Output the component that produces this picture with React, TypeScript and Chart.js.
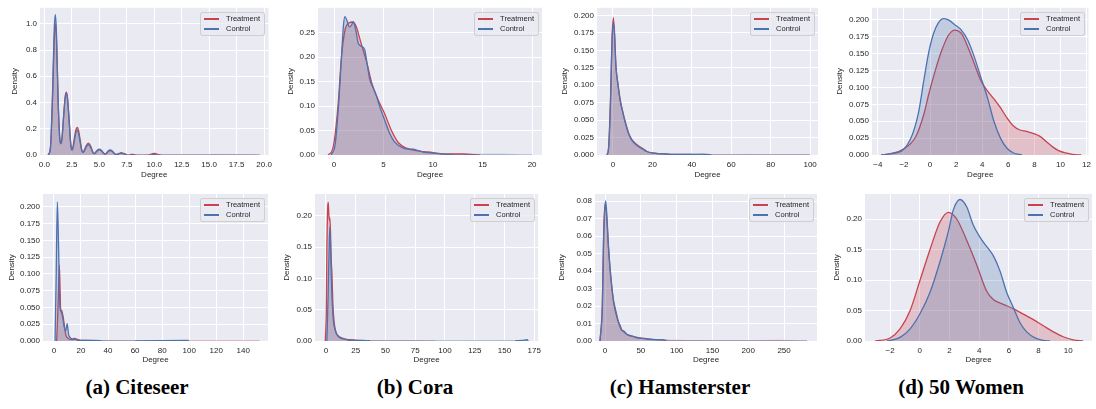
import React, { useEffect, useRef, useState } from "react";
import { Chart, registerables } from "chart.js";
Chart.register(...registerables);

// ---------- DATA ----------
// (a) Citeseer, top
const citeseerTopX = [0.35,0.55,0.75,0.9,1.0,1.1,1.25,1.4,1.5,1.6,1.75,1.9,2.0,2.1,2.25,2.4,2.5,2.6,2.75,2.9,3.0,3.1,3.25,3.4,3.5,3.6,3.8,4.0,4.2,4.4,4.5,4.6,4.8,5.0,5.2,5.4,5.5,5.6,5.8,6.0,6.2,6.4,6.6,6.8,7.0,7.2,7.5,7.8,8.0,8.3,8.8,9.5,9.8,10.0,10.2,10.6,12.0,14.0,15.6,17.0,19.6];
const citeseerTopTreat = [0,0.05,0.45,0.9,1.0,0.88,0.42,0.13,0.09,0.13,0.3,0.45,0.48,0.44,0.27,0.09,0.04,0.06,0.14,0.2,0.21,0.19,0.12,0.04,0.02,0.03,0.07,0.09,0.07,0.025,0.01,0.012,0.03,0.04,0.03,0.012,0.006,0.008,0.025,0.033,0.025,0.008,0.004,0.012,0.017,0.012,0.003,0.003,0.005,0.002,0.001,0.002,0.008,0.012,0.008,0.001,0.001,0.001,0.002,0.001,0];
const citeseerTopCtrl = [0,0.06,0.5,0.97,1.07,0.93,0.42,0.12,0.085,0.12,0.29,0.44,0.47,0.43,0.26,0.08,0.035,0.05,0.12,0.18,0.19,0.17,0.1,0.035,0.02,0.025,0.06,0.08,0.06,0.022,0.012,0.015,0.035,0.045,0.035,0.014,0.008,0.01,0.03,0.038,0.028,0.01,0.004,0.009,0.012,0.009,0.003,0.003,0.004,0.002,0.001,0.001,0.003,0.005,0.003,0.001,0.001,0.001,0.002,0.002,0];
const citeseerTopXTicks = [0,2.5,5,7.5,10,12.5,15,17.5,20];
const citeseerTopYTicks = [0,0.2,0.4,0.6,0.8,1.0];

// (b) Cora, top
const coraTopTreatX = [-0.6,-0.1,0.4,0.75,1.1,1.5,1.9,2.25,2.6,3.0,3.3,3.8,4.4,5.1,5.8,6.5,7.3,8.6,10.0,11.0,13.0,14.7];
const coraTopTreatY = [0,0.015,0.1,0.2,0.255,0.27,0.272,0.262,0.238,0.21,0.19,0.148,0.115,0.085,0.05,0.025,0.014,0.008,0.005,0.002,0.002,0];
const coraTopCtrlX = [-0.3,0.1,0.45,0.75,0.95,1.1,1.3,1.55,1.75,1.95,2.2,2.45,2.8,3.1,3.35,3.6,4.0,4.3,4.6,5.1,5.6,6.1,7.0,7.6,8.0,8.5,9.0,10.0,12.0,15.0,17.0,20.0];
const coraTopCtrlY = [0,0.02,0.1,0.2,0.265,0.283,0.275,0.262,0.265,0.272,0.255,0.228,0.222,0.215,0.185,0.155,0.135,0.12,0.1,0.072,0.045,0.027,0.014,0.012,0.012,0.009,0.006,0.004,0.001,0.001,0.001,0];
const coraTopXTicks = [0,5,10,15,20];
const coraTopYTicks = [0,0.05,0.1,0.15,0.2,0.25];

// (c) Hamsterster, top
const hamTopX = [-3,-2.2,-1.2,-0.5,0.2,0.8,1.5,2.5,3.7,4.9,6.2,8,9.6,12,14.7,17.2,19.8,23,27,30,36,40,45,50,60,67,80,90,100];
const hamTopTreat = [0,0.012,0.085,0.165,0.197,0.175,0.128,0.103,0.079,0.063,0.048,0.031,0.022,0.015,0.01,0.005,0.003,0.002,0.0015,0.001,0.001,0.0008,0.0006,0.0003,0.0003,0.0002,0.0002,0.0003,0];
const hamTopCtrl = [0,0.01,0.08,0.16,0.19,0.172,0.127,0.101,0.077,0.062,0.047,0.03,0.021,0.014,0.009,0.005,0.003,0.002,0.0012,0.0008,0.001,0.0008,0.0012,0.0003,0.0002,0.0004,0.0002,0.0002,0];
const hamTopXTicks = [0,20,40,60,80,100];
const hamTopYTicks = [0,0.025,0.05,0.075,0.1,0.125,0.15,0.175,0.2];

// (d) 50 Women, top
const womenTopTreatX = [-3.75,-3,-2.1,-1.1,-0.48,-0.1,0.4,0.9,1.4,1.9,2.4,2.9,3.4,3.9,4.4,4.9,5.4,5.9,6.4,6.9,7.4,7.9,8.4,8.9,9.4,9.9,10.4,10.9,11.6];
const womenTopTreatY = [0,0.002,0.008,0.027,0.06,0.09,0.125,0.155,0.177,0.185,0.18,0.16,0.135,0.11,0.095,0.083,0.07,0.055,0.043,0.037,0.035,0.032,0.028,0.02,0.012,0.006,0.003,0.001,0];
const womenTopCtrlX = [-3.75,-3,-2.1,-1.36,-0.86,-0.48,-0.1,0.27,0.65,1.03,1.4,1.9,2.4,2.9,3.4,3.9,4.4,4.9,5.4,5.9,6.4,7.05];
const womenTopCtrlY = [0,0.002,0.007,0.03,0.065,0.11,0.152,0.18,0.196,0.202,0.2,0.193,0.185,0.17,0.145,0.115,0.085,0.05,0.025,0.01,0.003,0];
const womenTopXTicks = [-4,-2,0,2,4,6,8,10,12];
const womenTopYTicks = [0,0.025,0.05,0.075,0.1,0.125,0.15,0.175,0.2];

// (a) Citeseer, bottom
const citeseerBotTreatX = [2,3,4,4.6,5,5.6,6.2,6.9,7.9,8.9,9.9,11,13.6,16,19.8,23.5,35,84,99,134,151,152];
const citeseerBotTreatY = [0,0.05,0.113,0.07,0.045,0.046,0.042,0.035,0.02,0.008,0.005,0.003,0.002,0.003,0.001,0.001,0.0004,0.0002,0.0003,0.0002,0.0002,0];
const citeseerBotCtrlX = [0.8,1.6,2.5,3.2,3.7,4.5,5.5,6.4,7.4,8.7,9.8,10.8,12,13.6,15.4,17.3,22,35,60,99,100];
const citeseerBotCtrlY = [0,0.09,0.207,0.16,0.113,0.05,0.043,0.036,0.023,0.015,0.026,0.01,0.005,0.003,0.004,0.001,0.001,0.0006,0.0003,0.001,0];
const citeseerBotXTicks = [0,20,40,60,80,100,120,140];
const citeseerBotYTicks = [0,0.025,0.05,0.075,0.1,0.125,0.15,0.175,0.2];

// (b) Cora, bottom
const coraBotTreatX = [-0.55,0.3,0.8,1.4,1.9,2.5,2.9,3.3,3.9,4.4,5,5.8,6.9,8.3,10.5,13.3,16,20,26,34,65,76,92];
const coraBotTreatY = [0,0.05,0.15,0.21,0.222,0.2,0.193,0.197,0.17,0.13,0.11,0.06,0.03,0.015,0.008,0.005,0.003,0.002,0.001,0.0005,0.0004,0.0004,0];
const coraBotCtrlX = [0.8,1.9,2.8,3.3,3.9,4.7,5.6,6.4,7.8,9.2,11.9,16,20,31,37,65,159,165,169,170];
const coraBotCtrlY = [0,0.08,0.16,0.182,0.15,0.09,0.05,0.03,0.017,0.01,0.005,0.003,0.001,0.001,0.0005,0.0002,0.0004,0.001,0.002,0];
const coraBotXTicks = [0,25,50,75,100,125,150,175];
const coraBotYTicks = [0,0.05,0.1,0.15,0.2];

// (c) Hamsterster, bottom
const hamBotX = [-7,-3.7,-1.9,0,0.9,2.8,4.7,7,9.3,11.6,14,16.3,18.6,21,23.3,25.6,28,31.7,37,44,51,60,70,79,86,102,126,149,196,242,282];
const hamBotTreat = [0,0.022,0.062,0.078,0.077,0.068,0.054,0.041,0.031,0.023,0.018,0.014,0.011,0.009,0.0065,0.0055,0.0045,0.0035,0.0028,0.002,0.0017,0.0012,0.0008,0.0006,0.0003,0.0003,0.0002,0.0002,0.0002,0.0003,0];
const hamBotCtrl = [0,0.02,0.06,0.077,0.08,0.07,0.055,0.042,0.032,0.024,0.019,0.015,0.011,0.008,0.006,0.0058,0.005,0.0035,0.003,0.002,0.0015,0.001,0.0008,0.0008,0.0003,0.0002,0.0002,0.0001,0.0001,0.0001,0];
const hamBotXTicks = [0,50,100,150,200,250];
const hamBotYTicks = [0,0.01,0.02,0.03,0.04,0.05,0.06,0.07,0.08];

// (d) 50 Women, bottom
const womenBotTreatX = [-3,-2,-1.33,-0.65,0.02,0.69,1.36,1.93,2.49,3.16,3.83,4.5,4.95,5.63,6.3,6.97,7.65,8.32,9,9.66,10.33,11];
const womenBotTreatY = [0,0.005,0.02,0.05,0.1,0.15,0.195,0.211,0.2,0.165,0.125,0.082,0.068,0.06,0.053,0.044,0.035,0.025,0.015,0.007,0.002,0];
const womenBotCtrlX = [-2.2,-1.33,-0.65,0.02,0.69,1.36,1.93,2.26,2.71,3.16,3.6,4.06,4.5,4.95,5.4,5.85,6.3,6.75,7.2,7.76,8.32,8.77];
const womenBotCtrlY = [0,0.006,0.02,0.045,0.08,0.13,0.18,0.215,0.232,0.22,0.19,0.17,0.155,0.14,0.115,0.08,0.055,0.03,0.015,0.005,0.001,0];
const womenBotXTicks = [-2,0,2,4,6,8,10];
const womenBotYTicks = [0,0.05,0.1,0.15,0.2];

const seriesNames = ["Treatment", "Control"];
const captions = ["(a) Citeseer", "(b) Cora", "(c) Hamsterster", "(d) 50 Women"];

// ---------- STYLE ----------
const RED = "#c8434f";
const BLUE = "#4c72b0";
const RED_FADED = "rgba(200,67,79,0.35)";
const BLUE_FADED = "rgba(76,114,176,0.35)";
const RED_FILL = "rgba(200,67,79,0.25)";
const BLUE_FILL = "rgba(76,114,176,0.25)";
const TEXT = "#262626";
const FONT = "'Liberation Sans', Arial, sans-serif";

type PanelCfg = {
  left: number; top: number; width: number; height: number;
  yAxisW: number; xAxisH: number; padTop: number; padRight: number;
  xMin: number; xMax: number; yMax: number;
  xTicks: number[]; yTicks: number[]; xDec: number; yDec: number;
  tx: number[]; ty: number[]; cx: number[]; cy: number[];
};

const panels: PanelCfg[] = [
  { left: 6, top: 0, width: 271, height: 184, yAxisW: 34, xAxisH: 29, padTop: 7, padRight: 8,
    xMin: -0.4, xMax: 20.4, yMax: 1.122, xTicks: citeseerTopXTicks, yTicks: citeseerTopYTicks, xDec: 1, yDec: 1,
    tx: citeseerTopX, ty: citeseerTopTreat, cx: citeseerTopX, cy: citeseerTopCtrl },
  { left: 282, top: 0, width: 266, height: 184, yAxisW: 36, xAxisH: 29, padTop: 7, padRight: 6,
    xMin: -1.62, xMax: 21.0, yMax: 0.301, xTicks: coraTopXTicks, yTicks: coraTopYTicks, xDec: 0, yDec: 2,
    tx: coraTopTreatX, ty: coraTopTreatY, cx: coraTopCtrlX, cy: coraTopCtrlY },
  { left: 556, top: 0, width: 268, height: 184, yAxisW: 41, xAxisH: 29, padTop: 7, padRight: 6,
    xMin: -8.1, xMax: 104, yMax: 0.211, xTicks: hamTopXTicks, yTicks: hamTopYTicks, xDec: 0, yDec: 3,
    tx: hamTopX, ty: hamTopTreat, cx: hamTopX, cy: hamTopCtrl },
  { left: 831, top: 0, width: 265, height: 184, yAxisW: 41, xAxisH: 29, padTop: 7, padRight: 3,
    xMin: -4.45, xMax: 12.15, yMax: 0.218, xTicks: womenTopXTicks, yTicks: womenTopYTicks, xDec: 0, yDec: 3,
    tx: womenTopTreatX, ty: womenTopTreatY, cx: womenTopCtrlX, cy: womenTopCtrlY },
  { left: 3, top: 186, width: 273, height: 183, yAxisW: 40, xAxisH: 28, padTop: 8, padRight: 8,
    xMin: -8.1, xMax: 158.3, yMax: 0.219, xTicks: citeseerBotXTicks, yTicks: citeseerBotYTicks, xDec: 0, yDec: 3,
    tx: citeseerBotTreatX, ty: citeseerBotTreatY, cx: citeseerBotCtrlX, cy: citeseerBotCtrlY },
  { left: 278, top: 186, width: 268, height: 183, yAxisW: 37, xAxisH: 28, padTop: 8, padRight: 6,
    xMin: -9.2, xMax: 178.3, yMax: 0.235, xTicks: coraBotXTicks, yTicks: coraBotYTicks, xDec: 0, yDec: 2,
    tx: coraBotTreatX, ty: coraBotTreatY, cx: coraBotCtrlX, cy: coraBotCtrlY },
  { left: 553, top: 186, width: 270, height: 183, yAxisW: 42, xAxisH: 28, padTop: 8, padRight: 6,
    xMin: -14, xMax: 296, yMax: 0.084, xTicks: hamBotXTicks, yTicks: hamBotYTicks, xDec: 0, yDec: 2,
    tx: hamBotX, ty: hamBotTreat, cx: hamBotX, cy: hamBotCtrl },
  { left: 828, top: 186, width: 268, height: 183, yAxisW: 37, xAxisH: 28, padTop: 8, padRight: 4,
    xMin: -3.69, xMax: 11.6, yMax: 0.241, xTicks: womenBotXTicks, yTicks: womenBotYTicks, xDec: 0, yDec: 2,
    tx: womenBotTreatX, ty: womenBotTreatY, cx: womenBotCtrlX, cy: womenBotCtrlY },
];

const captionCenters = [137, 415, 680, 961];

function fmt(v: number, dec: number): string {
  const s = Math.abs(v).toFixed(dec);
  return v < -1e-12 ? "\u2212" + s : s;
}

const bgPlugin = {
  id: "axesBg",
  beforeDraw(chart: any) {
    const { ctx, chartArea: a } = chart;
    ctx.save();
    ctx.fillStyle = "#eaeaf2";
    ctx.fillRect(a.left, a.top, a.right - a.left, a.bottom - a.top);
    ctx.restore();
  },
};

function zip(xs: number[], ys: number[]) {
  return xs.map((x, i) => ({ x, y: ys[i] }));
}

function Panel({ cfg }: { cfg: PanelCfg }) {
  const ref = useRef<HTMLCanvasElement>(null);
  const [area, setArea] = useState<any>(null);

  useEffect(() => {
    if (!ref.current) return;
    const tickFont = { family: FONT, size: 8 };
    const thr = cfg.yMax * 0.004;
    const fade = (faded: string) => (c: any) =>
      c.p0.parsed.y < thr && c.p1.parsed.y < thr ? faded : undefined;
    const chart = new Chart(ref.current, {
      type: "line",
      data: {
        datasets: [
          {
            label: seriesNames[0],
            data: zip(cfg.tx, cfg.ty),
            borderColor: RED,
            backgroundColor: RED_FILL,
            fill: "origin",
            borderWidth: 1.3,
            pointRadius: 0,
            cubicInterpolationMode: "monotone",
            segment: { borderColor: fade(RED_FADED) },
            clip: 0,
            order: 2,
          },
          {
            label: seriesNames[1],
            data: zip(cfg.cx, cfg.cy),
            borderColor: BLUE,
            backgroundColor: BLUE_FILL,
            fill: "origin",
            borderWidth: 1.3,
            pointRadius: 0,
            cubicInterpolationMode: "monotone",
            segment: { borderColor: fade(BLUE_FADED) },
            clip: 0,
            order: 1,
          },
        ],
      },
      options: {
        responsive: false,
        animation: false,
        devicePixelRatio: 1,
        layout: { padding: { top: cfg.padTop, right: cfg.padRight, left: 0, bottom: 0 } },
        plugins: { legend: { display: false }, tooltip: { enabled: false } },
        scales: {
          x: {
            type: "linear",
            min: cfg.xMin,
            max: cfg.xMax,
            afterBuildTicks: (s: any) => { s.ticks = cfg.xTicks.map((v) => ({ value: v })); },
            afterFit: (s: any) => { s.height = cfg.xAxisH; },
            grid: { color: "#ffffff", lineWidth: 1, drawTicks: false },
            border: { display: false },
            ticks: { padding: 5, color: TEXT, font: tickFont, autoSkip: false, maxRotation: 0,
              callback: (v: any) => fmt(Number(v), cfg.xDec) },
            title: { display: true, text: "Degree", color: TEXT, font: tickFont, padding: { top: 2, bottom: 4 } },
          },
          y: {
            type: "linear",
            min: 0,
            max: cfg.yMax,
            afterBuildTicks: (s: any) => { s.ticks = cfg.yTicks.map((v) => ({ value: v })); },
            afterFit: (s: any) => { s.width = cfg.yAxisW; },
            grid: { color: "#ffffff", lineWidth: 1, drawTicks: false },
            border: { display: false },
            ticks: { padding: 3, color: TEXT, font: tickFont, autoSkip: false,
              callback: (v: any) => fmt(Number(v), cfg.yDec) },
            title: { display: true, text: "Density", color: TEXT, font: tickFont, padding: { top: 4, bottom: 2 } },
          },
        },
      },
      plugins: [bgPlugin],
    } as any);
    const a = chart.chartArea;
    setArea({ left: a.left, right: a.right, top: a.top, bottom: a.bottom });
    return () => chart.destroy();
  }, []);

  return (
    <div style={{ position: "absolute", left: cfg.left, top: cfg.top, width: cfg.width, height: cfg.height }}>
      <canvas ref={ref} width={cfg.width} height={cfg.height} style={{ width: cfg.width, height: cfg.height, display: "block" }} />
      {area && (
        <div
          style={{
            position: "absolute",
            right: Math.round(cfg.width - area.right + 3),
            top: Math.round(area.top + 4),
            background: "rgba(234,234,242,0.8)",
            border: "1px solid rgba(204,204,204,0.9)",
            borderRadius: 3,
            padding: "1px 4px 1px 3px",
            fontFamily: FONT,
            fontSize: 7.5,
            color: TEXT,
            lineHeight: "10px",
            whiteSpace: "nowrap",
          }}
        >
          {seriesNames.map((n, i) => (
            <div key={n} style={{ position: "relative", height: 10, paddingLeft: 22 }}>
              <span style={{ position: "absolute", left: 0, top: 4, width: 15, height: 2, background: i === 0 ? RED : BLUE }} />
              <span>{n}</span>
            </div>
          ))}
        </div>
      )}
    </div>
  );
}

export default function App() {
  return (
    <div style={{ position: "absolute", left: 0, top: 0, width: 1096, height: 409, background: "#ffffff", overflow: "hidden" }}>
      {panels.map((p, i) => (
        <Panel key={i} cfg={p} />
      ))}
      {captions.map((c, i) => (
        <div
          key={c}
          style={{
            position: "absolute",
            left: captionCenters[i] - 120,
            width: 240,
            top: 374,
            textAlign: "center",
            fontFamily: "'Liberation Serif', 'Times New Roman', serif",
            fontWeight: "bold",
            fontSize: 21,
            lineHeight: "26px",
            color: "#000",
          }}
        >
          {c}
        </div>
      ))}
    </div>
  );
}
